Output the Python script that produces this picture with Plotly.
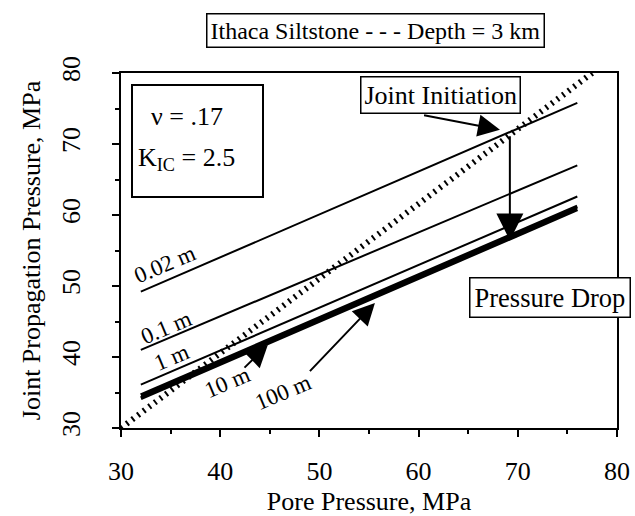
import plotly.graph_objects as go

# ---- data ----
pore = [32, 76]
spacings = ["0.02 m", "0.1 m", "1 m", "10 m", "100 m"]
prop_start = [49.2, 41.0, 36.1, 34.6, 34.2]
prop_end = [75.8, 67.0, 62.6, 61.2, 60.8]
line_widths = [2, 2, 2, 3.8, 3.8]
equal_x = [30, 77.5]
equal_y = [30, 80]
x_ticks = [30, 40, 50, 60, 70, 80]
y_ticks = [30, 40, 50, 60, 70, 80]

FONT = "Liberation Serif"
W, H = 635, 516
L, R, T, B = 121, 617, 73, 428


def px(xp):
    return (xp - L) / (R - L)


def py(yp):
    return (B - yp) / (B - T)


fig = go.Figure()
for name, y0, y1, w in zip(spacings, prop_start, prop_end, line_widths):
    fig.add_trace(go.Scatter(x=pore, y=[y0, y1], mode="lines", name=name,
                             line=dict(color="black", width=w), showlegend=False))

fig.add_trace(go.Scatter(x=equal_x, y=equal_y, mode="lines", showlegend=False,
                         line=dict(color="black", width=6, dash="2px,5px")))

annotations = []
# line labels
label_pos = [(34.4, 53.0), (34.6, 44.1), (35.1, 39.9), (40.7, 36.4), (46.3, 35.0)]
for name, (lx, ly) in zip(spacings, label_pos):
    annotations.append(dict(x=lx, y=ly, xref="x", yref="y", text=name, showarrow=False,
                            textangle=-23, font=dict(family=FONT, size=23, color="black")))

# arrows: (head x, head y, tail x, tail y, size)
arrow_defs = [
    (69.2, 56.4, 69.2, 71.3, 2.7),   # pressure drop vertical
    (68.2, 72.0, 60.4, 74.1, 2.2),   # joint initiation
    (44.8, 41.7, 42.3, 38.3, 2.2),   # 10 m
    (55.6, 47.6, 48.9, 37.8, 2.2),   # 100 m
]
for hx, hy, tx, ty, s in arrow_defs:
    annotations.append(dict(x=hx, y=hy, ax=tx, ay=ty, xref="x", yref="y", axref="x", ayref="y",
                            text="", showarrow=True, arrowhead=2, arrowsize=s,
                            arrowwidth=2, arrowcolor="black"))


def boxed(text, xc, yc, size, pad=3):
    return dict(x=px(xc), y=py(yc), xref="paper", yref="paper", xanchor="center", yanchor="middle",
                text=text, showarrow=False, font=dict(family=FONT, size=size, color="black"),
                bordercolor="black", borderwidth=1.5, borderpad=pad, bgcolor="white")


annotations.append(boxed("Ithaca Siltstone - - - Depth = 3 km", 375, 31, 24))
annotations.append(boxed("Joint Initiation", 440, 95, 26))
annotations.append(boxed("Pressure Drop", 550, 297, 26.5, pad=4))
annotations.append(dict(x=px(187), y=py(117), xref="paper", yref="paper", xanchor="center",
                        yanchor="middle", text="ν = .17", showarrow=False,
                        font=dict(family=FONT, size=26, color="black")))
annotations.append(dict(x=px(186), y=py(159), xref="paper", yref="paper", xanchor="center",
                        yanchor="middle", text="K<sub>IC</sub> = 2.5", showarrow=False,
                        font=dict(family=FONT, size=26, color="black")))

shapes = [dict(type="rect", xref="paper", yref="paper",
               x0=px(132), x1=px(263), y0=py(197), y1=py(85),
               line=dict(color="black", width=2), fillcolor="white", layer="above")]

axis_common = dict(
    showline=True, linecolor="black", linewidth=2, mirror=True, automargin=False,
    ticks="outside", ticklen=7, tickwidth=2, tickcolor="black",
    showgrid=False, zeroline=False,
    tickfont=dict(family=FONT, size=26, color="black"),
    minor=dict(ticks="outside", ticklen=4, tickwidth=2, tickcolor="black", dtick=5),
)

fig.update_layout(
    width=W, height=H,
    margin=dict(l=L, r=W - R, t=T, b=H - B),
    paper_bgcolor="white", plot_bgcolor="white",
    xaxis=dict(range=[30, 80], tickvals=x_ticks, ticklabelstandoff=12,
               title=dict(text="Pore Pressure, MPa", font=dict(family=FONT, size=26, color="black"),
                          standoff=17),
               **axis_common),
    yaxis=dict(range=[30, 80], tickvals=y_ticks, tickangle=-90, ticklabelstandoff=22,
               title=dict(text="Joint Propagation Pressure, MPa",
                          font=dict(family=FONT, size=26, color="black"), standoff=8),
               **axis_common),
    annotations=annotations,
    shapes=shapes,
)

fig.write_html("out.html")
